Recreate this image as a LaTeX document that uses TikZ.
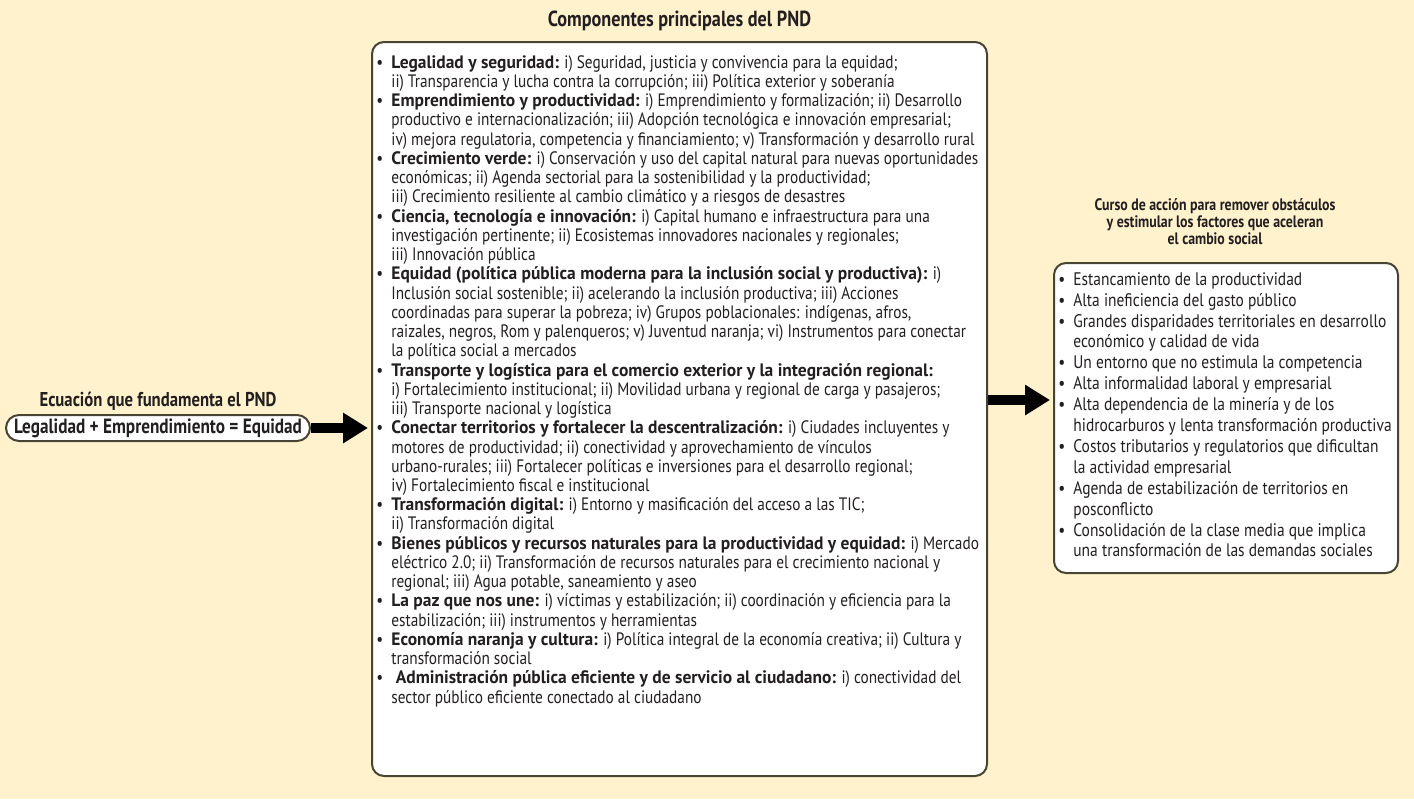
\documentclass[tikz,border=0pt]{standalone}
\usepackage{fontspec}
\setmainfont{PT Sans}[UprightFeatures={FakeStretch=0.85}, BoldFeatures={FakeStretch=0.97}]
\newfontfamily\headfont{PT Sans}[FakeStretch=0.835]
\usepackage{tikz}
\usetikzlibrary{arrows.meta, positioning}
\definecolor{mycream}{RGB}{255,242,205}
\definecolor{myolive}{RGB}{72,68,52}
\definecolor{mydark}{RGB}{35,31,32}
\newcommand{\bul}{\makebox[7.5pt][l]{\textbullet}}
\newcommand{\ind}{\makebox[7.5pt][l]{}}
\tikzset{
  panel/.style={rectangle, draw=myolive, fill=white, rounded corners=6pt, line width=1pt},
  oval/.style={rectangle, draw=myolive, fill=white, rounded corners=6.5pt, line width=1pt,
    minimum width=152pt, minimum height=13pt, inner sep=1pt,
    font=\headfont\fontsize{10.3}{12}\selectfont\bfseries, text=mydark},
  heading/.style={font=\headfont\fontsize{10}{11}\selectfont\bfseries, text=mydark,
    align=center, inner sep=0pt},
  listtext/.style={font=\fontsize{9}{9.62}\selectfont, text=mydark, align=left,
    inner sep=0pt, anchor=north west},
  bigarrow/.style={-{Triangle[length=12.5pt, width=14.5pt]}, line width=5pt, color=black,
    shorten >=1.5pt}
}
\begin{document}
\begin{tikzpicture}[x=0.5pt, y=-0.5pt]
  \fill[mycream] (0,0) rectangle (1414,799);
  \useasboundingbox (0,0) rectangle (1414,799);
  % Components
  \node[panel, minimum width=307.5pt, minimum height=367pt] (comp) at (679.5,409) {};
  \node[heading, font=\headfont\fontsize{10.9}{12}\selectfont\bfseries, above=5pt of comp] (comptitle) {Componentes principales del PND};
  \node[listtext] (complist) at ([shift={(2.5pt,-7pt)}]comp.north west) {%
    \bul\textbf{Legalidad y seguridad:} i) Seguridad, justicia y convivencia para la equidad;\\
    \ind ii) Transparencia y lucha contra la corrupción; iii) Política exterior y soberanía\\
    \bul\textbf{Emprendimiento y productividad:} i) Emprendimiento y formalización; ii) Desarrollo\\
    \ind productivo e internacionalización; iii) Adopción tecnológica e innovación empresarial;\\
    \ind iv) mejora regulatoria, competencia y financiamiento; v) Transformación y desarrollo rural\\
    \bul\textbf{Crecimiento verde:} i) Conservación y uso del capital natural para nuevas oportunidades\\
    \ind económicas; ii) Agenda sectorial para la sostenibilidad y la productividad;\\
    \ind iii) Crecimiento resiliente al cambio climático y a riesgos de desastres\\
    \bul\textbf{Ciencia, tecnología e innovación:} i) Capital humano e infraestructura para una\\
    \ind investigación pertinente; ii) Ecosistemas innovadores nacionales y regionales;\\
    \ind iii) Innovación pública\\
    \bul\textbf{Equidad (política pública moderna para la inclusión social y productiva):} i)\\
    \ind Inclusión social sostenible; ii) acelerando la inclusión productiva; iii) Acciones\\
    \ind coordinadas para superar la pobreza; iv) Grupos poblacionales: indígenas, afros,\\
    \ind raizales, negros, Rom y palenqueros; v) Juventud naranja; vi) Instrumentos para conectar\\
    \ind la política social a mercados\\
    \bul\textbf{Transporte y logística para el comercio exterior y la integración regional:}\\
    \ind i) Fortalecimiento institucional; ii) Movilidad urbana y regional de carga y pasajeros;\\
    \ind iii) Transporte nacional y logística\\
    \bul\textbf{Conectar territorios y fortalecer la descentralización:} i) Ciudades incluyentes y\\
    \ind motores de productividad; ii) conectividad y aprovechamiento de vínculos\\
    \ind urbano-rurales; iii) Fortalecer políticas e inversiones para el desarrollo regional;\\
    \ind iv) Fortalecimiento fiscal e institucional\\
    \bul\textbf{Transformación digital:} i) Entorno y masificación del acceso a las TIC;\\
    \ind ii) Transformación digital\\
    \bul\textbf{Bienes públicos y recursos naturales para la productividad y equidad:} i) Mercado\\
    \ind eléctrico 2.0; ii) Transformación de recursos naturales para el crecimiento nacional y\\
    \ind regional; iii) Agua potable, saneamiento y aseo\\
    \bul\textbf{La paz que nos une:} i) víctimas y estabilización; ii) coordinación y eficiencia para la\\
    \ind estabilización; iii) instrumentos y herramientas\\
    \bul\textbf{Economía naranja y cultura:} i) Política integral de la economía creativa; ii) Cultura y\\
    \ind transformación social\\
    \bul\textbf{\ Administración pública eficiente y de servicio al ciudadano:} i) conectividad del\\
    \ind sector público eficiente conectado al ciudadano};
  % Equation
  \node[oval, left=30pt of comp, yshift=-9.5pt] (eq) {Legalidad + Emprendimiento = Equidad};
  \node[heading, above=1.5pt of eq] (eqtitle) {Ecuación que fundamenta el PND};
  % Course of action
  \node[panel, minimum width=172pt, minimum height=155pt, right=32.5pt of comp, yshift=-4.5pt] (curso) {};
  \node[heading, font=\headfont\fontsize{8.3}{8.5}\selectfont\bfseries, above=8.5pt of curso, xshift=-5.5pt] (cursotitle) {Curso de acción para remover obstáculos\\
    y estimular los factores que aceleran\\ el cambio social};
  \node[listtext, font=\fontsize{9.1}{10.45}\selectfont] (cursolist) at ([shift={(2.5pt,-5pt)}]curso.north west) {%
    \bul Estancamiento de la productividad\\
    \bul Alta ineficiencia del gasto público\\
    \bul Grandes disparidades territoriales en desarrollo\\
    \ind económico y calidad de vida\\
    \bul Un entorno que no estimula la competencia\\
    \bul Alta informalidad laboral y empresarial\\
    \bul Alta dependencia de la minería y de los\\
    \ind hidrocarburos y lenta transformación productiva\\
    \bul Costos tributarios y regulatorios que dificultan\\
    \ind la actividad empresarial\\
    \bul Agenda de estabilización de territorios en\\
    \ind posconflicto\\
    \bul Consolidación de la clase media que implica\\
    \ind una transformación de las demandas sociales};
  \coordinate (cursoin) at ([yshift=9pt]curso.west);
  % Arrows
  \draw[bigarrow] (eq.east) -- (eq.east -| comp.west);
  \draw[bigarrow] (cursoin -| comp.east) -- (cursoin);
\end{tikzpicture}
\end{document}
